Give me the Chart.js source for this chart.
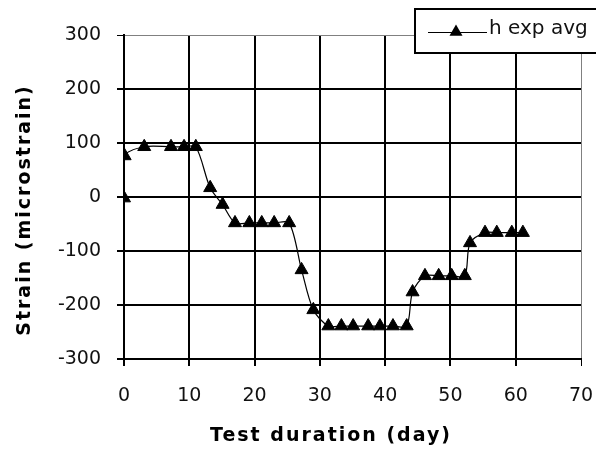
<!DOCTYPE html>
<html>
<head>
<meta charset="utf-8">
<script src="https://cdn.jsdelivr.net/npm/chart.js@4/dist/chart.umd.min.js"></script>
<style>
  html,body{margin:0;padding:0;background:#fff;}
  #wrap{width:596px;height:452px;position:relative;}
</style>
</head>
<body>
<div id="wrap"><canvas id="c" width="596" height="452"></canvas></div>
<script>
// Data
const seriesLabel = "h exp avg";
const days = [0, 0.1, 3.1, 7.2, 9.2, 11.0, 13.2, 15.1, 17.0, 19.2, 21.1, 23.0, 25.3, 27.2, 29.0, 31.3, 33.3, 35.1, 37.4, 39.2, 41.2, 43.3, 44.2, 46.1, 48.2, 50.2, 52.2, 53.0, 55.3, 57.1, 59.4, 61.1];
const strain = [-2, 76, 93, 93, 93, 93, 17, -14, -48, -48, -48, -48, -48, -135, -209, -239, -239, -239, -239, -239, -239, -239, -176, -146, -146, -146, -146, -85, -66, -66, -66, -66];
const xTicks = [0, 10, 20, 30, 40, 50, 60, 70];
const yTicks = [-300, -200, -100, 0, 100, 200, 300];
const xTitle = "Test duration (day)";
const yTitle = "Strain (microstrain)";

const points = days.map((d, i) => ({x: d, y: strain[i]}));

const decorPlugin = {
  id: 'decor',
  afterDraw(chart) {
    const ctx = chart.ctx;
    // axis titles
    ctx.save();
    ctx.fillStyle = '#000';
    ctx.font = 'bold 19px "DejaVu Sans"';
    ctx.textAlign = 'center';
    ctx.textBaseline = 'middle';
    ctx.letterSpacing = '2px';
    ctx.fillText(xTitle, 331, 436);
    ctx.translate(25, 210);
    ctx.rotate(-Math.PI / 2);
    ctx.fillText(yTitle, 0, 0);
    ctx.restore();
    // legend
    ctx.save();
    ctx.fillStyle = '#fff';
    ctx.fillRect(415, 9, 190, 44);
    ctx.lineWidth = 2;
    ctx.strokeStyle = '#000';
    ctx.strokeRect(415, 9, 190, 44);
    ctx.lineWidth = 1;
    ctx.beginPath();
    ctx.moveTo(428, 32.5);
    ctx.lineTo(487, 32.5);
    ctx.stroke();
    ctx.fillStyle = '#000';
    ctx.beginPath();
    const cx = 456, cy = 32, r = 7.5;
    ctx.moveTo(cx, cy - r);
    ctx.lineTo(cx + r * Math.sin(2 * Math.PI / 3), cy + r / 2);
    ctx.lineTo(cx - r * Math.sin(2 * Math.PI / 3), cy + r / 2);
    ctx.closePath();
    ctx.fill();
    ctx.font = '20px "DejaVu Sans"';
    ctx.textBaseline = 'middle';
    ctx.fillStyle = '#111';
    ctx.fillText(chart.data.datasets[0].label, 489, 29);
    ctx.restore();
  }
};

new Chart(document.getElementById('c'), {
  type: 'scatter',
  data: {
    datasets: [{
      label: seriesLabel,
      data: points,
      showLine: true,
      borderColor: '#000',
      borderWidth: 1.2,
      backgroundColor: '#000',
      pointStyle: 'triangle',
      pointRadius: 7.5,
      pointBorderWidth: 1,
      pointBorderColor: '#000',
      tension: 0.3
    }]
  },
  options: {
    responsive: false,
    animation: false,
    layout: {padding: {left: 6, top: 35, right: 15, bottom: 8}},
    plugins: {legend: {display: false}, tooltip: {enabled: false}},
    scales: {
      x: {
        type: 'linear', min: 0, max: 70,
        afterBuildTicks: s => { s.ticks = xTicks.map(v => ({value: v})); },
        afterFit: s => { s.height = 85; s.paddingLeft = 0; s.paddingRight = 0; },
        grid: {
          color: c => (c.tick && c.tick.value === 70) ? '#808080' : '#000',
          lineWidth: c => (c.tick && c.tick.value === 70) ? 1 : 2,
          tickColor: '#000', tickLength: 7, drawTicks: true
        },
        border: {color: '#000', width: 2},
        ticks: {color: '#111', font: {family: 'DejaVu Sans', size: 19}, padding: 19, maxRotation: 0},
        title: {display: false, text: xTitle}
      },
      y: {
        type: 'linear', min: -300, max: 300,
        afterBuildTicks: s => { s.ticks = yTicks.map(v => ({value: v})); },
        afterFit: s => { s.width = 118; s.paddingTop = 0; s.paddingBottom = 0; },
        grid: {
          color: c => (c.tick && c.tick.value === 300) ? '#808080' : '#000',
          lineWidth: c => (c.tick && c.tick.value === 300) ? 1 : 2,
          tickColor: '#000', tickLength: 7, drawTicks: true
        },
        border: {color: '#000', width: 2},
        ticks: {color: '#111', font: {family: 'DejaVu Sans', size: 19}, padding: 16},
        title: {display: false, text: yTitle}
      }
    }
  },
  plugins: [decorPlugin]
});
</script>
</body>
</html>
